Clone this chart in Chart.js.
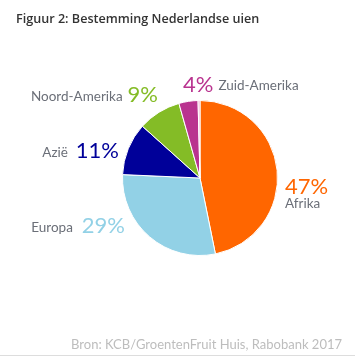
<!DOCTYPE html>
<html>
<head>
<meta charset="utf-8">
<script src="https://cdn.jsdelivr.net/npm/chart.js@4.4.1/dist/chart.umd.min.js"></script>
<style>
  html, body { margin: 0; padding: 0; background: #ffffff; }
  #wrap { position: relative; width: 355px; height: 361px; overflow: hidden; }
  #chart { position: absolute; left: 0; top: 0; }
  #title { position: absolute; left: 16px; top: 10px; font-family: "Open Sans", sans-serif; font-weight: 600; font-size: 12.6px; color: #333333; white-space: nowrap; }
  #source { position: absolute; right: 13px; top: 336px; font-family: Lato, sans-serif; font-size: 13px; color: #bdbdbd; white-space: nowrap; }
  #rule { position: absolute; left: 0; top: 355px; width: 355px; height: 1px; background: #dddddd; }
</style>
</head>
<body>
<div id="wrap">
  <canvas id="chart" width="355" height="361"></canvas>
  <div id="title">Figuur 2: Bestemming Nederlandse uien</div>
  <div id="source">Bron: KCB/GroentenFruit Huis, Rabobank 2017</div>
  <div id="rule"></div>
</div>
<script>
// Data
const categories = ["Afrika", "Europa", "Azië", "Noord-Amerika", "Zuid-Amerika", ""];
const shares = [47, 29, 11, 9, 4, 0.4];
const shareLabels = ["47%", "29%", "11%", "9%", "4%", ""];
const sliceColors = ["#ff6600", "#92d1e6", "#000099", "#84bc26", "#b9338f", "#f0a8cc"];

// label layout (offsets from pie centre, px)
const labelLayout = [
  { dx: 85, dy: 16, align: "left", stacked: true },
  { dx: -75, dy: 55, align: "right", gap: 9 },
  { dx: -81, dy: -20, align: "right", gap: 8 },
  { dx: -42, dy: -76, align: "right", gap: 5 },
  { dx: -17, dy: -86, align: "left", gap: 5 },
  null
];

const FONT = "Lato, sans-serif";
const nameColor = "#6b6f78";

const labelPlugin = {
  id: "sliceLabels",
  afterDatasetsDraw(chart) {
    const ctx = chart.ctx;
    const meta = chart.getDatasetMeta(0);
    const arc0 = meta.data[0];
    const cx = arc0.x, cy = arc0.y;
    ctx.save();
    ctx.textBaseline = "alphabetic";
    meta.data.forEach((arc, i) => {
      const L = labelLayout[i];
      if (!L) return;
      const pctFont = "400 22px " + FONT;
      const nameFont = "400 13.5px " + FONT;
      const x = cx + L.dx, y = cy + L.dy;
      const pct = shareLabels[i], name = categories[i];
      if (L.stacked) {
        ctx.textAlign = "left";
        ctx.font = pctFont; ctx.fillStyle = sliceColors[i];
        ctx.fillText(pct, x, y);
        ctx.font = nameFont; ctx.fillStyle = nameColor;
        ctx.fillText(name, x, y + 14);
        return;
      }
      ctx.font = pctFont; const wp = ctx.measureText(pct).width;
      ctx.font = nameFont; const wn = ctx.measureText(name).width;
      ctx.textAlign = "left";
      if (L.align === "right") {
        const xs = x - wp - L.gap - wn;
        ctx.font = nameFont; ctx.fillStyle = nameColor; ctx.fillText(name, xs, y - 1);
        ctx.font = pctFont; ctx.fillStyle = sliceColors[i]; ctx.fillText(pct, x - wp, y);
      } else {
        ctx.font = pctFont; ctx.fillStyle = sliceColors[i]; ctx.fillText(pct, x, y);
        ctx.font = nameFont; ctx.fillStyle = nameColor; ctx.fillText(name, x + wp + L.gap, y - 2);
      }
    });
    ctx.restore();
  }
};

new Chart(document.getElementById("chart"), {
  type: "pie",
  data: {
    labels: categories,
    datasets: [{
      data: shares,
      backgroundColor: sliceColors,
      borderColor: "#ffffff",
      borderWidth: 1
    }]
  },
  options: {
    responsive: false,
    animation: false,
    layout: { padding: { left: 122, right: 77, top: 100, bottom: 105 } },
    plugins: { legend: { display: false }, tooltip: { enabled: false }, title: { display: false } }
  },
  plugins: [labelPlugin]
});
</script>
</body>
</html>
